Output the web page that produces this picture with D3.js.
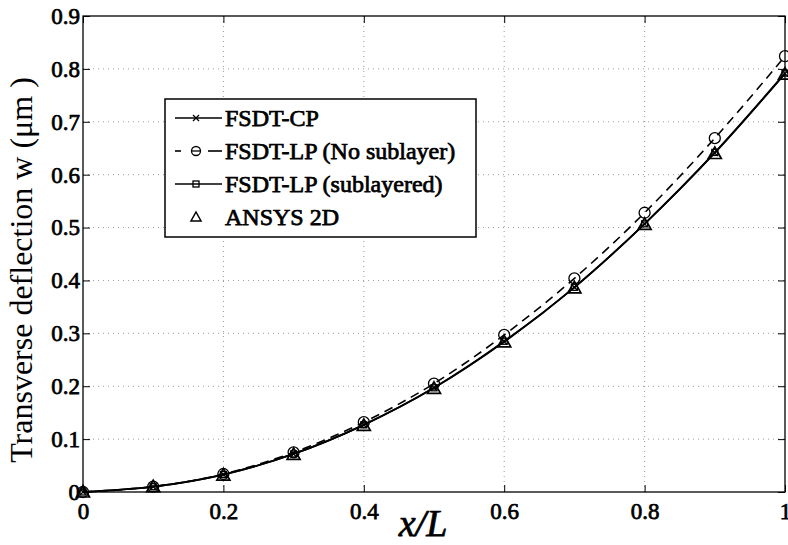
<!DOCTYPE html>
<html>
<head>
<meta charset="utf-8">
<script src="https://cdn.jsdelivr.net/npm/d3@7"></script>
<style>
  body { margin: 0; background: #fff; }
  svg text { font-family: "Liberation Serif", "Times New Roman", serif; fill: #000; }
  .heavy { stroke: #000; stroke-width: 0.75px; font-weight: normal; }
</style>
</head>
<body>
<div id="container"></div>
<script>
const xPos = [0, 0.1, 0.2, 0.3, 0.4, 0.5, 0.6, 0.7, 0.8, 0.9, 1.0];
const fsdtCP = [0, 0.010, 0.033, 0.072, 0.127, 0.197, 0.284, 0.387, 0.507, 0.641, 0.791];
const fsdtNoSub = [0, 0.010, 0.034, 0.075, 0.132, 0.205, 0.297, 0.404, 0.528, 0.669, 0.824];
const fsdtSub = [0, 0.010, 0.033, 0.072, 0.127, 0.197, 0.285, 0.387, 0.507, 0.642, 0.792];
const ansys = [0, 0.010, 0.032, 0.071, 0.126, 0.196, 0.284, 0.386, 0.506, 0.640, 0.790];
const xTicks = [0, 0.2, 0.4, 0.6, 0.8, 1];
const yTicks = [0, 0.1, 0.2, 0.3, 0.4, 0.5, 0.6, 0.7, 0.8, 0.9];
const legendLabels = ["FSDT-CP", "FSDT-LP (No sublayer)", "FSDT-LP (sublayered)", "ANSYS 2D"];

const W = 788, H = 545;
const margin = { top: 16, right: 3, bottom: 53, left: 83 };
const w = W - margin.left - margin.right;
const h = H - margin.top - margin.bottom;
const serif = "'Liberation Serif', 'Times New Roman', serif";

const svg = d3.select("#container").append("svg")
  .attr("width", W).attr("height", H);
const g = svg.append("g").attr("transform", `translate(${margin.left},${margin.top})`);

const x = d3.scaleLinear().domain([0, 1]).range([0, w]);
const y = d3.scaleLinear().domain([0, 0.9]).range([h, 0]);

// dotted grid
g.append("g").selectAll("line").data(xTicks.slice(1, -1)).join("line")
  .attr("x1", d => x(d)).attr("x2", d => x(d)).attr("y1", 0).attr("y2", h)
  .attr("stroke", "#999").attr("stroke-width", 1).attr("stroke-dasharray", "1,4");
g.append("g").selectAll("line").data(yTicks.slice(1, -1)).join("line")
  .attr("y1", d => y(d)).attr("y2", d => y(d)).attr("x1", 0).attr("x2", w)
  .attr("stroke", "#999").attr("stroke-width", 1).attr("stroke-dasharray", "1,4");

// axes, ticks pointing inward on all four sides
const tk = 7;
g.append("g").attr("transform", `translate(0,${h})`)
  .call(d3.axisBottom(x).tickValues(xTicks).tickSize(-tk).tickPadding(tk + 4).tickFormat(d3.format("")))
  .call(a => a.select(".domain").remove());
g.append("g")
  .call(d3.axisTop(x).tickValues(xTicks).tickSize(-tk).tickFormat(""))
  .call(a => a.select(".domain").remove());
g.append("g")
  .call(d3.axisLeft(y).tickValues(yTicks).tickSize(-tk).tickPadding(tk - 4).tickFormat(d3.format("")))
  .call(a => a.select(".domain").remove());
g.append("g").attr("transform", `translate(${w},0)`)
  .call(d3.axisRight(y).tickValues(yTicks).tickSize(-tk).tickFormat(""))
  .call(a => a.select(".domain").remove());
g.selectAll(".tick line").attr("stroke", "#000");
g.selectAll(".tick text").attr("class", "heavy").attr("font-family", serif).attr("font-size", 23);

g.append("rect").attr("width", w).attr("height", h)
  .attr("fill", "none").attr("stroke", "#000").attr("stroke-width", 1.3);

// lines
const line = ys => d3.line().x((d, i) => x(xPos[i])).y(d => y(d)).curve(d3.curveMonotoneX)(ys);
g.append("path").attr("d", line(fsdtNoSub)).attr("fill", "none")
  .attr("stroke", "#000").attr("stroke-width", 1.6).attr("stroke-dasharray", "9,6");
g.append("path").attr("d", line(fsdtCP)).attr("fill", "none")
  .attr("stroke", "#000").attr("stroke-width", 1.8);
g.append("path").attr("d", line(fsdtSub)).attr("fill", "none")
  .attr("stroke", "#000").attr("stroke-width", 1.8);

// markers
function marker(sel, type) {
  if (type === "x") {
    sel.append("path").attr("d", "M-3,-3L3,3M-3,3L3,-3").attr("stroke", "#000").attr("stroke-width", 1.3).attr("fill", "none");
  } else if (type === "o") {
    sel.append("circle").attr("r", 5.5).attr("fill", "none").attr("stroke", "#000").attr("stroke-width", 1.3);
  } else if (type === "s") {
    sel.append("rect").attr("x", -3).attr("y", -3).attr("width", 6).attr("height", 6)
      .attr("fill", "none").attr("stroke", "#000").attr("stroke-width", 1.3);
  } else {
    sel.append("path").attr("d", "M0,-6.5L6.5,5L-6.5,5Z").attr("fill", "none").attr("stroke", "#000").attr("stroke-width", 1.7);
  }
}
[[fsdtNoSub, "o"], [fsdtCP, "x"], [fsdtSub, "s"], [ansys, "t"]].forEach(([ys, t]) => {
  g.append("g").selectAll("g").data(ys).join("g")
    .attr("transform", (d, i) => `translate(${x(xPos[i])},${y(d)})`)
    .each(function () { marker(d3.select(this), t); });
});

// legend
const lg = svg.append("g").attr("transform", "translate(165,99)");
lg.append("rect").attr("width", 311).attr("height", 138)
  .attr("fill", "#fff").attr("stroke", "#000").attr("stroke-width", 1.5);
const legType = ["x", "o", "s", "t"];
legendLabels.forEach((lab, i) => {
  const row = lg.append("g").attr("transform", `translate(0,${19 + i * 33})`);
  const t = legType[i];
  if (t === "x" || t === "s") {
    row.append("line").attr("x1", 10).attr("x2", 57).attr("stroke", "#000").attr("stroke-width", 1.6);
  } else if (t === "o") {
    row.append("line").attr("x1", 10).attr("x2", 16).attr("stroke", "#000").attr("stroke-width", 1.6);
    row.append("line").attr("x1", 43).attr("x2", 57).attr("stroke", "#000").attr("stroke-width", 1.6);
  }
  const m = row.append("g").attr("transform", "translate(31,0)");
  if (t === "o") {
    m.append("circle").attr("r", 4.5).attr("fill", "none").attr("stroke", "#000").attr("stroke-width", 1.3);
    m.append("line").attr("x1", -4.5).attr("x2", 4.5).attr("stroke", "#000").attr("stroke-width", 1.3);
  } else if (t === "t") {
    m.append("path").attr("d", "M0,-5L5,4L-5,4Z").attr("fill", "none").attr("stroke", "#000").attr("stroke-width", 1.5);
  } else {
    marker(m, t);
  }
  row.append("text").attr("class", "heavy").attr("x", 60).attr("y", 8).text(lab)
    .attr("font-family", serif).attr("font-size", 24);
});

// axis labels
svg.append("text").attr("transform", "translate(32,270) rotate(-90)")
  .attr("text-anchor", "middle").attr("font-family", serif).attr("font-size", 32)
  .text("Transverse deflection w (μm )");
svg.append("text").attr("class", "heavy").attr("x", 423).attr("y", 536)
  .attr("text-anchor", "middle").attr("font-family", serif).attr("font-size", 38)
  .attr("font-style", "italic")
  .text("x/L");
</script>
</body>
</html>
